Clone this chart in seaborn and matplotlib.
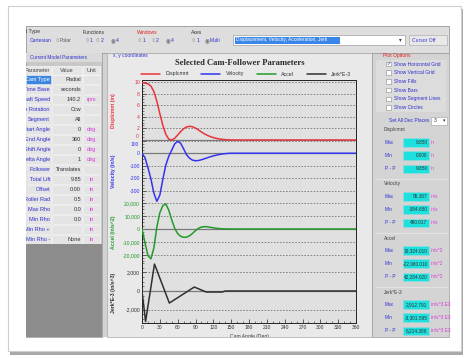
import numpy as np
import pandas as pd
import matplotlib
matplotlib.use("Agg")
import matplotlib.pyplot as plt
from matplotlib.patches import Rectangle
from matplotlib.lines import Line2D
from matplotlib.ticker import MultipleLocator, FuncFormatter
import seaborn as sns

# ---------------------------------------------------------------- data
cam_angle = [0, 5, 10, 15, 20, 25, 30, 35, 40, 45, 50, 55, 60, 65, 70, 75, 80, 85,
             90, 95, 100, 105, 110, 115, 120, 125, 130, 135, 140, 145, 150, 155,
             160, 165, 170, 175, 180, 360]
displacement = [9.850, 9.80, 9.68, 9.30, 8.35, 6.65, 4.55, 2.55, 1.00, 0.15, 0.00,
                0.30, 0.85, 1.45, 1.95, 2.25, 2.36, 2.28, 2.05, 1.72, 1.38, 1.06,
                0.80, 0.58, 0.41, 0.28, 0.18, 0.11, 0.06, 0.03, 0.01, 0.0, 0.0,
                0.0, 0.0, 0.0, 0.0, 0.0]
velocity = [0, -35, -115, -205, -320, -384.650, -335, -210, -95, -25, 25, 75,
            95.367, 80, 35, -12, -40, -55, -60, -58, -52, -44, -36, -28, -21,
            -15, -10, -6, -3, -1, 0, 0, 0, 0, 0, 0, 0, 0]
acceleration = [0, -10500, -20500, -22960.010, -14500, 1500, 12500, 18000,
                19324.010, 14500, 7000, 500, -3500, -5600, -6400, -6300, -5200,
                -3400, -1200, 500, 1500, 1800, 1700, 1300, 900, 550, 300, 150, 60,
                20, 0, 0, 0, 0, 0, 0, 0, 0]
jerk_angle = [0, 6, 21, 46, 88, 108, 135, 140, 360]
jerk_e3 = [0, -3301.595, 2912.791, -1300, 430, -110, -110, 0, 0]

series_names = ["Displcmnt", "Velocity", "Accel", "Jerk*E-3"]
axis_titles = ["Displcmnt (in)", "Velocity (in/s)", "Accel (in/s^2)", "Jerk*E-3 (in/s^3)"]
series_units = ["in", "in/s", "in/s^2", "in/s^3 E3"]
series_colors = ["#e8343c", "#3434ee", "#229a2a", "#303030"]

param_names = ["Cam Type", "Time Base", "Shaft Speed", "Cam Rotation", "Segment",
               "Start Angle", "End Angle", "Shift Angle", "Delta Angle", "Follower",
               "Total Lift", "Offset", "Roller Rad", "Max Rho", "Min Rho",
               "Min Rho +", "Min Rho -"]
param_values = ["Radial", "seconds", "140.2", "Ccw", "All", "0", "360", "0", "1",
                "Translates", "9.85", "0.00", "0.5", "0.0", "0.0", "", "None"]
param_units = ["", "", "rpm", "", "", "deg", "deg", "deg", "deg", "", "in", "in",
               "in", "in", "in", "in", "in"]

plot_options = ["Show Horizontal Grid", "Show Vertical Grid", "Show Fills",
                "Show Bars", "Show Segment Lines", "Show Circles"]
option_checked = [True, False, False, False, False, False]

# ---------------------------------------------------------------- setup
sns.set_style("white")
plt.rcParams["font.family"] = ["Liberation Sans", "DejaVu Sans"]

W, H = 466, 358
fig = plt.figure(figsize=(W / 100, H / 100), dpi=100)
fig.patch.set_facecolor("white")

bg = fig.add_axes([0, 0, 1, 1], zorder=0)
bg.set_xlim(0, W)
bg.set_ylim(H, 0)
bg.axis("off")


def box(x0, y0, x1, y1, fc, ec="none", lw=0.5, z=1):
    bg.add_patch(Rectangle((x0, y0), x1 - x0, y1 - y0, facecolor=fc,
                           edgecolor=ec, lw=lw, zorder=z))


def label(x, y, s, size=3.6, color="#333333", ha="left", clip=None, **kw):
    t = bg.text(x, y, s, fontsize=size, color=color, ha=ha, va="center",
                zorder=5, **kw)
    if clip is not None:
        t.set_clip_on(True)
        t.set_clip_path(clip)
    return t


BLUE_TXT = "#3030d0"
MAG_TXT = "#d838d8"

# card with drop shadow
box(10, 9, 463, 355, "#a8a8a8", z=0.5)
box(8, 6, 461, 351, "white", ec="#cfcfcf", lw=0.8, z=0.6)

# application window
box(26, 26, 449, 337, "#d2d2d2", z=0.8)

# toolbar
box(26, 26, 449, 53, "#dedede", ec="#9a9a9a", lw=0.6)
tool_clip = Rectangle((26, 26), 423, 27, transform=bg.transData)
label(18, 32, "Plot Type", size=3.8, clip=tool_clip)
label(30, 41, "Cartesian", color=BLUE_TXT)
label(55, 41, "\u25cb", size=4, color="#777777")
label(60, 41, "Polar", color="#555555")
label(83, 32, "Functions")
for i, (x, s) in enumerate([(85, "1"), (96, "2"), (111, "4")]):
    label(x, 41, "\u25c9" if i == 2 else "\u25cb", size=4, color="#777777")
    label(x + 5, 41, s, color=BLUE_TXT)
label(137, 32, "Windows", color="#e02020")
for i, (x, s) in enumerate([(138, "1"), (151, "2"), (166, "4")]):
    label(x, 41, "\u25c9" if i == 2 else "\u25cb", size=4, color="#777777")
    label(x + 5, 41, s, color=BLUE_TXT)
label(191, 32, "Axes")
label(192, 41, "\u25cb", size=4, color="#777777")
label(197, 41, "1", color=BLUE_TXT)
label(205, 41, "\u25c9", size=4, color="#777777")
label(210, 41, "Multi", color=BLUE_TXT)
box(233, 35, 405, 45, "white", ec="#a0a0a0", lw=0.5)
box(235, 36.5, 340, 43.5, "#3a86e8", z=2)
label(236, 40, "Displacement, Velocity, Acceleration, Jerk", color="white", size=3.5)
label(400, 40, "\u25be", size=4, color="#444444", ha="center")
box(409, 35, 447, 45, "#e8e8e8", ec="#b0b0b0", lw=0.5)
label(412, 40, "Cursor Off", color=BLUE_TXT)

# left: model parameter table
box(26, 53, 102, 337, "#c8c8c8", ec="#9a9a9a", lw=0.5)
box(26, 53, 102, 62, "#dadada")
label(30, 57.5, "Current Model Parameters", color=BLUE_TXT, size=3.4)
left_clip = Rectangle((26, 53), 76, 284, transform=bg.transData)
row_h = 9.95
hdr_y = 70
tsize = 4.0
box(26, hdr_y - 4.5, 51, hdr_y + 4.5, "#e6e6e6", ec="white", lw=0.4)
box(52, hdr_y - 4.5, 82, hdr_y + 4.5, "#e6e6e6", ec="white", lw=0.4)
box(83, hdr_y - 4.5, 100, hdr_y + 4.5, "#e6e6e6", ec="white", lw=0.4)
label(50, hdr_y, "Parameter", ha="right", clip=left_clip, color="#444444", size=tsize)
label(67, hdr_y, "Value", ha="center", color="#444444", size=tsize)
label(91.5, hdr_y, "Unit", ha="center", color="#444444", size=tsize)
for i, (nm, val, un) in enumerate(zip(param_names, param_values, param_units)):
    y = hdr_y + (i + 1) * row_h
    pc = "#3a86e0" if i == 0 else "#e4e4e4"
    box(26, y - 4.5, 51, y + 4.5, pc, ec="white", lw=0.4)
    box(52, y - 4.5, 82, y + 4.5, "#e4e4e4", ec="white", lw=0.4)
    box(83, y - 4.5, 100, y + 4.5, "#e4e4e4", ec="white", lw=0.4)
    label(50, y, nm, ha="right", clip=left_clip, size=tsize,
          color="white" if i == 0 else BLUE_TXT)
    label(81, y, val, ha="right", size=tsize, clip=left_clip)
    label(91.5, y, un, ha="center", color=MAG_TXT, size=tsize)
table_bottom = hdr_y + len(param_names) * row_h + 5
box(26, table_bottom, 102, 337, "#8c8c8c")

# chart panel
box(107, 53, 372, 337, "#e9e9e9", ec="#a8a8a8", lw=0.5)
label(113, 55.5, "x, y coordinates", color=BLUE_TXT, size=3.5)
bg.text(240, 63, "Selected Cam-Follower Parameters", fontsize=6.2,
        fontweight="bold", family="Liberation Serif", color="#2a2a2a",
        ha="center", va="center", zorder=5)

# right: plot options and statistics
box(372, 53, 449, 337, "#d4d4d4", ec="#9a9a9a", lw=0.5)
box(376, 60, 446, 112, "#dcdcdc")
label(383, 56, "Plot Options", color="#e02020")
for i, (opt, chk) in enumerate(zip(plot_options, option_checked)):
    y = 64 + i * 8.7
    box(386, y - 2.3, 390.5, y + 2.3, "white", ec="#8a8a8a", lw=0.4, z=3)
    if chk:
        label(388.2, y, "\u2713", size=4, color="#3a3ad0", ha="center",
              family="DejaVu Sans")
    label(394, y, opt, color=BLUE_TXT, size=3.5)
label(389, 121, "Set All Dec Places", color=BLUE_TXT, size=3.5)
box(431, 117, 447, 125, "white", ec="#a0a0a0", lw=0.4)
label(434, 121, "3", size=3.6)
label(444, 121, "\u25be", size=3.6, ha="center")

stat_arrays = [displacement, velocity, acceleration, jerk_e3]
group_y = [130, 184, 238, 292]
for g, (name, unit, arr, gy) in enumerate(zip(series_names, series_units,
                                              stat_arrays, group_y)):
    vmax, vmin = max(arr), min(arr)
    stats = [("Max", vmax), ("Min", vmin), ("P - P", vmax - vmin)]
    if g > 0:
        bg.plot([375, 447], [gy - 5, gy - 5], color="#e8e8e8", lw=0.6, zorder=2)
    label(384, gy, name, color="#444444", size=3.5)
    for k, (sname, sval) in enumerate(stats):
        y = gy + 12.5 + k * 13.2
        label(385, y, sname, color=BLUE_TXT, size=3.4)
        box(403, y - 4.3, 428.5, y + 4.3, "#1ee0de", ec="#9adada", lw=0.4, z=3)
        label(427.5, y, f"{sval:,.3f}", ha="right", size=3.4, color="#333333")
        label(431, y, unit, color=MAG_TXT, size=3.4)

# ---------------------------------------------------------------- stacked axes
PL, PR, PT, PB = 142, 356, 80, 323
edges = np.linspace(PT, PB, 5)
ylims = [(-0.13, 10.34), (-386, 100), (-25580, 21150), (-3459, 3108)]
majors = [2, 100, 10000, 2000]
minors = [0.5, 25, 2500, 500]
plot_x = [cam_angle, cam_angle, cam_angle, jerk_angle]
plot_y = [displacement, velocity, acceleration, jerk_e3]
# tick labels that sit on a shared panel edge are drawn separately, nudged apart
edge_labels = {0: (0, "bottom", 0.9), 1: (100, "top", -0.9)}


def make_fmt(skip):
    def f(v, p):
        if skip is not None and abs(v - skip) < 1e-9:
            return ""
        return f"{v:,.0f}"
    return f


axes = []
for i in range(4):
    top, bot = edges[i], edges[i + 1]
    ax = fig.add_axes([PL / W, 1 - bot / H, (PR - PL) / W, (bot - top) / H],
                      zorder=2)
    ax.set_facecolor("#e0e0e0")
    df = pd.DataFrame({"angle": plot_x[i], "value": plot_y[i]})
    sns.lineplot(data=df, x="angle", y="value", ax=ax, color=series_colors[i],
                 lw=1.1, zorder=4, sort=False, estimator=None)
    ax.set_xlim(0, 360)
    ax.set_ylim(*ylims[i])
    ax.yaxis.set_major_locator(MultipleLocator(majors[i]))
    ax.yaxis.set_minor_locator(MultipleLocator(minors[i]))
    skip = edge_labels[i][0] if i in edge_labels else None
    ax.yaxis.set_major_formatter(FuncFormatter(make_fmt(skip)))
    ax.xaxis.set_major_locator(MultipleLocator(30))
    ax.xaxis.set_minor_locator(MultipleLocator(10))
    ax.set_xlabel("")
    ax.set_ylabel("")
    ax.grid(False)
    for t in ax.get_yticks():
        if ylims[i][0] <= t <= ylims[i][1]:
            if abs(t) < 1e-9:
                ax.axhline(t, color="#7a7a7a", lw=0.9, zorder=2)
            else:
                ax.axhline(t, color="#5a5a5a", lw=0.5, ls=(0, (2.2, 2.2)), zorder=2)
    ax.tick_params(axis="y", which="major", direction="in", length=2.6, width=0.5,
                   labelsize=3.7, labelcolor=series_colors[i], pad=1.5,
                   left=True, right=False)
    ax.tick_params(axis="y", which="minor", direction="in", length=1.4, width=0.4,
                   left=True, right=False)
    ax.tick_params(axis="x", which="both", direction="in", top=False,
                   bottom=(i == 3), labelbottom=(i == 3), labelsize=3.6,
                   labelcolor="#333333", pad=1.5)
    ax.tick_params(axis="x", which="major", length=2.6, width=0.5)
    ax.tick_params(axis="x", which="minor", length=1.4, width=0.4)
    for s in ["left", "right", "top", "bottom"]:
        ax.spines[s].set_color("#222222")
        ax.spines[s].set_linewidth(0.7)
    ax.spines["left"].set_visible(True)
    ax.spines["right"].set_visible(True)
    ax.spines["top"].set_visible(i == 0)
    ax.spines["bottom"].set_visible(i == 3)
    if i in edge_labels:
        val, va, dy = edge_labels[i]
        ax.annotate(f"{val:,.0f}", xy=(0, val), xycoords=("axes fraction", "data"),
                    xytext=(-2.2, dy), textcoords="offset points", ha="right",
                    va=va, fontsize=3.5, color=series_colors[i])
    axes.append(ax)
    # vertical axis title
    bg.text(113, (top + bot) / 2, axis_titles[i], rotation=90, fontsize=3.7,
            fontweight="bold", color=series_colors[i], ha="center",
            va="center", zorder=5)

axes[3].xaxis.set_major_formatter(FuncFormatter(lambda v, p: f"{v:.0f}"))
chart_clip = Rectangle((107, 53), 265, 284, transform=bg.transData)
label(249, 336.5, "Cam Angle (Deg)", ha="center", size=3.6, clip=chart_clip)

# legend across the top of the chart
handles = [Line2D([0], [0], color=c, lw=1.1) for c in series_colors]
fig.legend(handles, series_names, loc="center", ncol=4,
           bbox_to_anchor=(246 / W, 1 - 74 / H), frameon=False, fontsize=3.8,
           handlelength=3.6, handletextpad=1.0, columnspacing=2.4,
           labelcolor="#333333")

fig.savefig("out.png", dpi=100, facecolor="white")
